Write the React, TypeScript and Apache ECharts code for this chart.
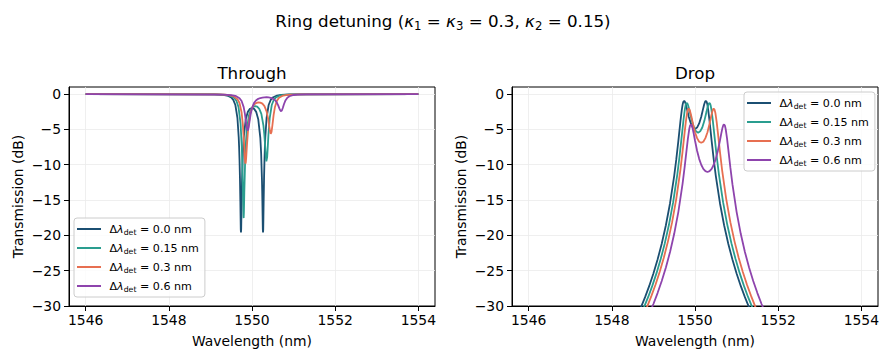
import React, { useEffect, useRef } from 'react';
import * as echarts from 'echarts';

const FONT = 'DejaVu Sans';

const detuningLabels = ['0.0', '0.15', '0.3', '0.6'];
const seriesColors = ['#1b4f72', '#2a9d8f', '#e76f51', '#8e44ad'];
const xTicks = [1546, 1548, 1550, 1552, 1554];
const yTicks = [-30, -25, -20, -15, -10, -5, 0];

// Through port, detuning 0.0 nm  [wavelength nm, dB]
const throughDet00: [number, number][] = [
  [1546, 0], [1549.0, -0.03], [1549.1, -0.05], [1549.2, -0.07], [1549.3, -0.11], [1549.4, -0.21],
  [1549.5, -0.48], [1549.55, -0.82], [1549.6, -1.55], [1549.65, -3.42], [1549.68, -6.07],
  [1549.69, -7.47], [1549.7, -9.34], [1549.71, -11.83], [1549.72, -15.23], [1549.725, -17.28],
  [1549.73, -19.2], [1549.735, -19.6], [1549.74, -19.14], [1549.745, -17.3], [1549.75, -15.39],
  [1549.755, -13.72], [1549.76, -12.29], [1549.78, -8.41], [1549.8, -6.19], [1549.85, -3.56],
  [1549.9, -2.52], [1549.95, -2.09], [1550.0, -1.97], [1550.05, -2.09], [1550.1, -2.52],
  [1550.15, -3.56], [1550.2, -6.19], [1550.22, -8.41], [1550.24, -12.29], [1550.245, -13.72],
  [1550.25, -15.39], [1550.255, -17.3], [1550.26, -19.14], [1550.265, -19.6], [1550.27, -19.2],
  [1550.275, -17.28], [1550.28, -15.23], [1550.29, -11.83], [1550.3, -9.34], [1550.31, -7.47],
  [1550.32, -6.07], [1550.35, -3.42], [1550.4, -1.55], [1550.45, -0.82], [1550.5, -0.48],
  [1550.6, -0.21], [1550.7, -0.11], [1550.8, -0.07], [1550.9, -0.05], [1551.0, -0.03], [1554, 0],
];

// Through port, detuning 0.15 nm
const throughDet015: [number, number][] = [
  [1546, 0], [1549.075, -0.04], [1549.275, -0.08], [1549.375, -0.13], [1549.475, -0.24],
  [1549.575, -0.55], [1549.625, -0.94], [1549.675, -1.82], [1549.725, -4.17], [1549.755, -7.54],
  [1549.775, -11.72], [1549.785, -14.69], [1549.795, -17.3], [1549.799, -17.55], [1549.805, -16.79],
  [1549.815, -13.98], [1549.835, -9.44], [1549.855, -6.77], [1549.875, -5.12], [1549.925, -3.05],
  [1549.975, -2.2], [1550.025, -1.82], [1550.075, -1.7], [1550.125, -1.78], [1550.175, -2.09],
  [1550.225, -2.81], [1550.275, -4.47], [1550.295, -5.65], [1550.315, -7.25], [1550.335, -8.99],
  [1550.345, -9.53], [1550.351, -9.59], [1550.355, -9.52], [1550.365, -8.91], [1550.375, -7.93],
  [1550.395, -5.8], [1550.425, -3.45], [1550.475, -1.55], [1550.525, -0.81], [1550.575, -0.47],
  [1550.675, -0.2], [1550.775, -0.11], [1550.875, -0.07], [1551.075, -0.03], [1554, 0],
];

// Through port, detuning 0.3 nm
const throughDet03: [number, number][] = [
  [1546, 0], [1549.15, -0.05], [1549.35, -0.09], [1549.45, -0.15], [1549.55, -0.29],
  [1549.65, -0.72], [1549.7, -1.27], [1549.75, -2.61], [1549.78, -4.29], [1549.81, -7.13],
  [1549.83, -9.27], [1549.84, -9.82], [1549.845, -9.85], [1549.85, -9.72], [1549.86, -9.03],
  [1549.88, -7.08], [1549.91, -4.73], [1549.95, -3.0], [1550.0, -1.97], [1550.05, -1.49],
  [1550.1, -1.27], [1550.15, -1.18], [1550.2, -1.21], [1550.25, -1.36], [1550.3, -1.71],
  [1550.35, -2.44], [1550.39, -3.55], [1550.42, -4.74], [1550.44, -5.45], [1550.45, -5.62],
  [1550.455, -5.62], [1550.46, -5.59], [1550.47, -5.35], [1550.49, -4.45], [1550.52, -2.94],
  [1550.55, -1.87], [1550.6, -0.93], [1550.65, -0.52], [1550.75, -0.21], [1550.85, -0.11],
  [1550.95, -0.07], [1551.15, -0.03], [1554, 0],
];

// Through port, detuning 0.6 nm
const throughDet06: [number, number][] = [
  [1546, 0], [1549.3, -0.07], [1549.5, -0.14], [1549.6, -0.25], [1549.7, -0.58], [1549.75, -0.98],
  [1549.8, -1.85], [1549.83, -2.81], [1549.86, -4.14], [1549.88, -4.94], [1549.9, -5.17],
  [1549.92, -4.7], [1549.94, -3.9], [1549.97, -2.77], [1550.0, -1.99], [1550.05, -1.25],
  [1550.1, -0.87], [1550.15, -0.67], [1550.2, -0.56], [1550.25, -0.49], [1550.3, -0.46],
  [1550.35, -0.45], [1550.4, -0.48], [1550.45, -0.53], [1550.5, -0.65], [1550.55, -0.85],
  [1550.6, -1.24], [1550.63, -1.61], [1550.66, -2.06], [1550.68, -2.32], [1550.7, -2.43],
  [1550.72, -2.3], [1550.74, -1.98], [1550.77, -1.41], [1550.8, -0.96], [1550.85, -0.51],
  [1550.9, -0.31], [1551.0, -0.13], [1551.1, -0.07], [1551.3, -0.04], [1554, 0],
];

// Drop port, detuning 0.0 nm
const dropDet00: [number, number][] = [
  [1546, -50.05], [1548.4, -33.93], [1548.6, -31.54], [1548.7, -30.2], [1548.8, -28.75],
  [1548.9, -27.16], [1549.0, -25.4], [1549.1, -23.43], [1549.2, -21.18], [1549.3, -18.57],
  [1549.4, -15.45], [1549.5, -11.58], [1549.55, -9.25], [1549.6, -6.62], [1549.65, -3.83],
  [1549.68, -2.33], [1549.7, -1.57], [1549.71, -1.29], [1549.72, -1.1], [1549.73, -0.99],
  [1549.74, -0.97], [1549.75, -1.01], [1549.76, -1.12], [1549.78, -1.48], [1549.8, -1.96],
  [1549.85, -3.2], [1549.9, -4.16], [1549.95, -4.74], [1550.0, -4.93], [1550.05, -4.74],
  [1550.1, -4.16], [1550.15, -3.2], [1550.2, -1.96], [1550.22, -1.48], [1550.24, -1.12],
  [1550.25, -1.01], [1550.26, -0.97], [1550.27, -0.99], [1550.28, -1.1], [1550.29, -1.29],
  [1550.3, -1.57], [1550.32, -2.33], [1550.35, -3.83], [1550.4, -6.62], [1550.45, -9.25],
  [1550.5, -11.58], [1550.6, -15.45], [1550.7, -18.57], [1550.8, -21.18], [1550.9, -23.43],
  [1551.0, -25.4], [1551.1, -27.16], [1551.2, -28.75], [1551.3, -30.2], [1551.4, -31.54],
  [1551.6, -33.93], [1554, -50.05],
];

// Drop port, detuning 0.15 nm
const dropDet015: [number, number][] = [
  [1546, -50.37], [1548.475, -33.91], [1548.675, -31.52], [1548.775, -30.17], [1548.875, -28.72],
  [1548.975, -27.12], [1549.075, -25.35], [1549.175, -23.36], [1549.275, -21.1], [1549.375, -18.47],
  [1549.475, -15.3], [1549.575, -11.36], [1549.625, -8.98], [1549.675, -6.31], [1549.725, -3.57],
  [1549.755, -2.2], [1549.775, -1.58], [1549.785, -1.39], [1549.795, -1.29], [1549.805, -1.27],
  [1549.815, -1.32], [1549.835, -1.6], [1549.855, -2.04], [1549.875, -2.55], [1549.925, -3.79],
  [1549.975, -4.73], [1550.025, -5.28], [1550.075, -5.47], [1550.125, -5.28], [1550.175, -4.73],
  [1550.225, -3.79], [1550.275, -2.55], [1550.295, -2.04], [1550.315, -1.6], [1550.335, -1.32],
  [1550.345, -1.27], [1550.355, -1.29], [1550.365, -1.39], [1550.375, -1.58], [1550.395, -2.2],
  [1550.425, -3.57], [1550.475, -6.31], [1550.525, -8.98], [1550.575, -11.36], [1550.675, -15.3],
  [1550.775, -18.47], [1550.875, -21.1], [1550.975, -23.36], [1551.075, -25.35], [1551.175, -27.12],
  [1551.275, -28.72], [1551.375, -30.17], [1551.475, -31.52], [1551.675, -33.91], [1554, -49.71],
];

// Drop port, detuning 0.3 nm
const dropDet03: [number, number][] = [
  [1546, -50.68], [1548.55, -33.85], [1548.75, -31.44], [1548.85, -30.08], [1548.95, -28.61],
  [1549.05, -26.99], [1549.15, -25.19], [1549.25, -23.17], [1549.35, -20.85], [1549.45, -18.13],
  [1549.55, -14.83], [1549.65, -10.68], [1549.7, -8.17], [1549.75, -5.45], [1549.78, -3.89],
  [1549.81, -2.67], [1549.83, -2.2], [1549.84, -2.09], [1549.85, -2.06], [1549.86, -2.11],
  [1549.88, -2.39], [1549.91, -3.11], [1549.95, -4.21], [1550.0, -5.4], [1550.05, -6.24],
  [1550.1, -6.74], [1550.15, -6.9], [1550.2, -6.74], [1550.25, -6.24], [1550.3, -5.4],
  [1550.35, -4.21], [1550.39, -3.11], [1550.42, -2.39], [1550.44, -2.11], [1550.45, -2.06],
  [1550.46, -2.09], [1550.47, -2.2], [1550.49, -2.67], [1550.52, -3.89], [1550.55, -5.45],
  [1550.6, -8.17], [1550.65, -10.68], [1550.75, -14.83], [1550.85, -18.13], [1550.95, -20.85],
  [1551.05, -23.17], [1551.15, -25.19], [1551.25, -26.99], [1551.35, -28.61], [1551.45, -30.08],
  [1551.55, -31.44], [1551.75, -33.85], [1554, -49.37],
];

// Drop port, detuning 0.6 nm
const dropDet06: [number, number][] = [
  [1546, -51.26], [1548.5, -35.78], [1548.7, -33.62], [1548.8, -32.42], [1548.9, -31.12],
  [1549.0, -29.72], [1549.1, -28.17], [1549.2, -26.46], [1549.3, -24.54], [1549.4, -22.35],
  [1549.5, -19.78], [1549.6, -16.67], [1549.7, -12.76], [1549.75, -10.39], [1549.8, -7.8],
  [1549.83, -6.27], [1549.86, -5.02], [1549.88, -4.49], [1549.9, -4.29], [1549.92, -4.41],
  [1549.94, -4.79], [1549.97, -5.63], [1550.0, -6.57], [1550.05, -8.02], [1550.1, -9.17],
  [1550.15, -10.01], [1550.2, -10.59], [1550.25, -10.92], [1550.3, -11.03], [1550.35, -10.92],
  [1550.4, -10.59], [1550.45, -10.01], [1550.5, -9.17], [1550.55, -8.02], [1550.6, -6.57],
  [1550.63, -5.63], [1550.66, -4.79], [1550.68, -4.41], [1550.7, -4.29], [1550.72, -4.49],
  [1550.74, -5.02], [1550.77, -6.27], [1550.8, -7.8], [1550.85, -10.39], [1550.9, -12.76],
  [1551.0, -16.67], [1551.1, -19.78], [1551.2, -22.35], [1551.3, -24.54], [1551.4, -26.46],
  [1551.5, -28.17], [1551.6, -29.72], [1551.7, -31.12], [1551.8, -32.42], [1551.9, -33.62],
  [1552.1, -35.78], [1554, -48.63],
];

const throughData = [throughDet00, throughDet015, throughDet03, throughDet06];
const dropData = [dropDet00, dropDet015, dropDet03, dropDet06];

const fmtY = (v: number) => (v < 0 ? '\u2212' + Math.abs(v) : String(v));
const fmtX = (v: number) => String(v);

function makeXAxis(gridIndex: number) {
  return {
    type: 'value',
    gridIndex,
    min: 1545.6,
    max: 1554.4,
    name: 'Wavelength (nm)',
    nameLocation: 'middle',
    nameGap: 28,
    nameTextStyle: { fontSize: 13.9, color: '#000', fontFamily: FONT },
    axisLine: { show: true, onZero: false, lineStyle: { color: '#000', width: 1 } },
    axisTick: { show: true, inside: false, length: 5, customValues: xTicks, lineStyle: { color: '#000', width: 1 } },
    axisLabel: { customValues: xTicks, fontSize: 13.9, color: '#000', fontFamily: FONT, margin: 7, formatter: fmtX },
    splitLine: { show: true, lineStyle: { color: '#ebebeb', width: 0.8 } },
  };
}

function makeYAxis(gridIndex: number) {
  return {
    type: 'value',
    gridIndex,
    min: -30,
    max: 1,
    name: 'Transmission (dB)',
    nameLocation: 'middle',
    nameGap: 44,
    nameTextStyle: { fontSize: 13.9, color: '#000', fontFamily: FONT },
    axisLine: { show: true, onZero: false, lineStyle: { color: '#000', width: 1 } },
    axisTick: { show: true, inside: false, length: 5, customValues: yTicks, lineStyle: { color: '#000', width: 1 } },
    axisLabel: { customValues: yTicks, fontSize: 13.9, color: '#000', fontFamily: FONT, margin: 8, formatter: fmtY },
    splitLine: { show: true, lineStyle: { color: '#ebebeb', width: 0.8 } },
  };
}

function makeLegend(left: number, top: number) {
  return {
    orient: 'vertical',
    left,
    top,
    icon: 'rect',
    itemWidth: 24,
    itemHeight: 2,
    itemGap: 5,
    padding: [4, 6, 4, 3],
    backgroundColor: 'rgba(255,255,255,0.8)',
    borderColor: '#cccccc',
    borderWidth: 1,
    borderRadius: 3,
    data: detuningLabels,
    formatter: (name: string) => ` \u0394{i|\u03bb}{s|det} = ${name} nm`,
    textStyle: {
      fontSize: 11.1,
      lineHeight: 14,
      color: '#000',
      fontFamily: FONT,
      rich: {
        i: { fontSize: 11.1, fontStyle: 'italic', fontFamily: FONT, color: '#000', lineHeight: 14 },
        s: { fontSize: 7.8, fontFamily: FONT, color: '#000', verticalAlign: 'bottom', lineHeight: 10 },
      },
    },
  };
}

export default function App() {
  const ref = useRef<HTMLDivElement | null>(null);

  useEffect(() => {
    document.body.style.margin = '0';
    if (!ref.current) return;
    const chart = echarts.init(ref.current, undefined, { renderer: 'svg' });

    const mkSeries = (data: [number, number][][], axisIndex: number) =>
      data.map((d, i) => ({
        type: 'line',
        name: detuningLabels[i],
        xAxisIndex: axisIndex,
        yAxisIndex: axisIndex,
        data: d,
        showSymbol: false,
        symbol: 'none',
        clip: true,
        silent: true,
        lineStyle: { width: 1.8, color: seriesColors[i] },
        itemStyle: { color: seriesColors[i] },
      }));

    chart.setOption({
      animation: false,
      backgroundColor: '#ffffff',
      title: [
        {
          text: 'Ring detuning ({k|\u03ba}{s|1} = {k|\u03ba}{s|3} = 0.3, {k|\u03ba}{s|2} = 0.15)',
          left: 443,
          top: 10,
          padding: 0,
          textAlign: 'center',
          textStyle: {
            fontSize: 16.7,
            fontWeight: 'normal',
            color: '#000',
            fontFamily: FONT,
            lineHeight: 22,
            rich: {
              k: { fontSize: 16.7, fontStyle: 'italic', fontFamily: FONT, color: '#000', lineHeight: 22 },
              s: { fontSize: 11.7, fontFamily: FONT, color: '#000', verticalAlign: 'bottom', lineHeight: 14 },
            },
          },
        },
        {
          text: 'Through',
          left: 252,
          top: 64,
          padding: 0,
          textAlign: 'center',
          textStyle: { fontSize: 16.7, fontWeight: 'normal', color: '#000', fontFamily: FONT },
        },
        {
          text: 'Drop',
          left: 695,
          top: 64,
          padding: 0,
          textAlign: 'center',
          textStyle: { fontSize: 16.7, fontWeight: 'normal', color: '#000', fontFamily: FONT },
        },
      ],
      legend: [makeLegend(74, 218), makeLegend(744, 92)],
      grid: [
        { left: 69, top: 87, width: 366, height: 219, show: true, borderColor: '#000', borderWidth: 1, backgroundColor: 'transparent' },
        { left: 512, top: 87, width: 366, height: 219, show: true, borderColor: '#000', borderWidth: 1, backgroundColor: 'transparent' },
      ],
      xAxis: [makeXAxis(0), makeXAxis(1)],
      yAxis: [makeYAxis(0), makeYAxis(1)],
      series: [...mkSeries(throughData, 0), ...mkSeries(dropData, 1)],
    });

    return () => chart.dispose();
  }, []);

  return (
    <div
      ref={ref}
      style={{ position: 'absolute', left: 0, top: 0, width: 887, height: 358 }}
    />
  );
}
